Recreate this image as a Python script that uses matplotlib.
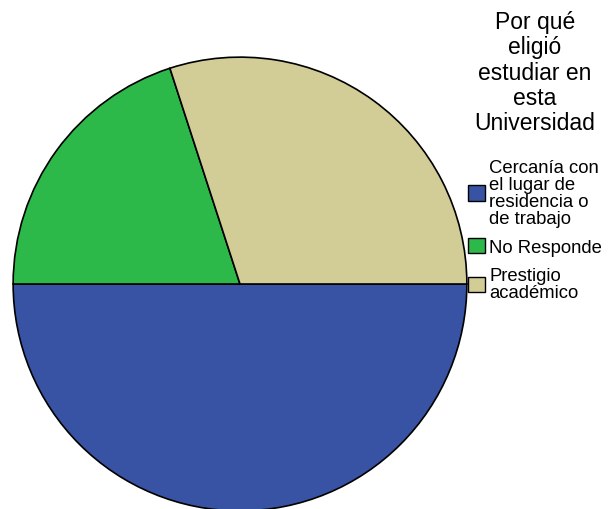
import matplotlib
matplotlib.use('Agg')
import matplotlib.pyplot as plt

categories = ['Cercanía con\nel lugar de\nresidencia o\nde trabajo', 'No Responde', 'Prestigio\nacadémico']
counts = [5, 2, 3]
colors = ['#3953A4', '#2DB84A', '#D2CC96']
legend_title = 'Por qué\neligió\nestudiar en\nesta\nUniversidad'

plt.rcParams['font.family'] = ['Liberation Sans', 'DejaVu Sans']

fig = plt.figure(figsize=(6.15, 5.10), dpi=100)
# square axes holding the pie (center ~ (240,285) px, radius ~228 px)
ax = fig.add_axes([12 / 615, (510 - 285 - 228) / 510, 456 / 615, 456 / 510])
wedges, _ = ax.pie(counts, colors=colors, startangle=0, counterclock=False,
                   radius=1.0, wedgeprops=dict(edgecolor='black', linewidth=1.2))
ax.set_xlim(-1.005, 1.005)
ax.set_ylim(-1.005, 1.005)
ax.set_aspect('equal')
ax.axis('off')

leg = fig.legend(wedges, categories, loc='upper left', bbox_to_anchor=(0.761, 0.978),
                 frameon=False, fontsize=13.3, title=legend_title, title_fontsize=16.5,
                 handlelength=0.9, handleheight=0.9, handletextpad=0.25,
                 labelspacing=0.6, borderpad=0.0, borderaxespad=0.0)
leg.get_title().set_multialignment('center')
leg.get_title().set_linespacing(1.12)
for t in leg.get_texts():
    t.set_linespacing(1.0)
for h in leg.legend_handles:
    h.set_edgecolor('black')
    h.set_linewidth(1.0)
leg._legend_box.sep = 18

fig.savefig('out.png', dpi=100)
